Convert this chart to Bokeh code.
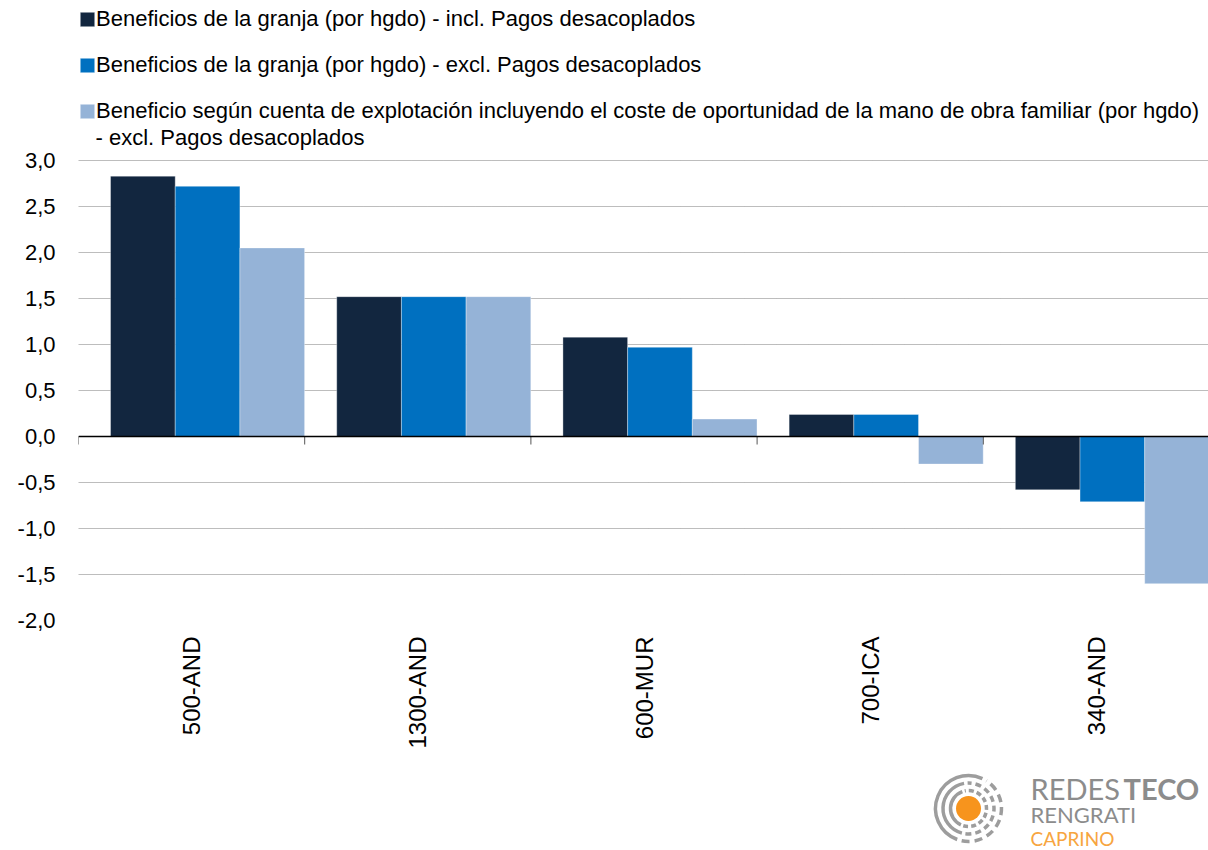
import math
from bokeh.plotting import figure
from bokeh.models import Range1d, FixedTicker, Legend, LegendItem, Span, Spacer, Label
from bokeh.layouts import column, row
from bokeh.embed import file_html
from bokeh.resources import INLINE
from bokeh.core.properties import value

# ---------------- data ----------------
categories = ["500-AND", "1300-AND", "600-MUR", "700-ICA", "340-AND"]
incl_pagos = [2.83, 1.52, 1.08, 0.24, -0.58]
excl_pagos = [2.72, 1.52, 0.97, 0.24, -0.71]
coste_oportunidad = [2.05, 1.52, 0.19, -0.30, -1.60]

series_labels = [
    "Beneficios de la granja (por hgdo) - incl. Pagos desacoplados",
    "Beneficios de la granja (por hgdo) - excl. Pagos desacoplados",
    "Beneficio según cuenta de explotación incluyendo el coste de oportunidad de la mano de obra familiar (por hgdo)",
]
series_label_continuation = "- excl. Pagos desacoplados"
series_colors = ["#12263F", "#0070C0", "#95B3D7"]

y_ticks = [-2.0, -1.5, -1.0, -0.5, 0.0, 0.5, 1.0, 1.5, 2.0, 2.5, 3.0]
y_tick_labels = ["-2,0", "-1,5", "-1,0", "-0,5", "0,0", "0,5", "1,0", "1,5", "2,0", "2,5", "3,0"]

logo_words = ["REDES", "TECO", "RENGRATI", "CAPRINO"]

FONT = "Liberation Sans"

# ---------------- main chart ----------------
W, H = 1208, 760
PX_PER_UNIT = 92.0
CAT_PX = 226.2
p = figure(width=W, height=H, output_backend="svg", toolbar_location=None,
           x_range=Range1d(0, 1130 / CAT_PX),
           y_range=Range1d(-2, 3 + 160 / PX_PER_UNIT),
           min_border_left=78, min_border_right=0,
           min_border_top=0, min_border_bottom=140)
p.outline_line_color = None
p.background_fill_color = "white"
p.border_fill_color = "white"

group_gap = 0.1416
bar_w = 0.286
renderers = []
for k, (vals, color) in enumerate(zip([incl_pagos, excl_pagos, coste_oportunidad], series_colors)):
    xs = [i + group_gap + bar_w * (k + 0.5) for i in range(len(categories))]
    r = p.vbar(x=xs, top=vals, bottom=0, width=bar_w, fill_color=color,
               line_color="white", line_alpha=0.35, line_width=1)
    renderers.append(r)

# zero line and category boundary ticks
p.add_layout(Span(location=0, dimension="width", line_color="black", line_width=1.5))
bounds = list(range(len(categories) + 1))
p.segment(x0=bounds, y0=[0] * len(bounds), x1=bounds, y1=[-8 / PX_PER_UNIT] * len(bounds),
          line_color="#555555", line_width=1)

# y axis
yt = FixedTicker(ticks=y_ticks)
p.yaxis.ticker = yt
p.yaxis.major_label_overrides = dict(zip(y_ticks, y_tick_labels))
p.yaxis.axis_line_color = None
p.yaxis.major_tick_line_color = None
p.yaxis.minor_tick_line_color = None
p.yaxis.major_tick_out = 0
p.yaxis.minor_tick_out = 0
p.yaxis.major_label_standoff = 23
p.yaxis.major_label_text_font = FONT
p.yaxis.major_label_text_font_size = "22px"
p.yaxis.major_label_text_color = "black"

p.ygrid.ticker = yt
p.ygrid.grid_line_color = "#7a7a7a"
p.ygrid.grid_line_dash = "1 1"
p.ygrid.grid_line_width = 1
p.xgrid.grid_line_color = None

# x axis (category labels)
centers = [i + 0.5 for i in range(len(categories))]
p.xaxis.ticker = FixedTicker(ticks=centers)
p.xaxis.major_label_overrides = dict(zip(centers, categories))
p.xaxis.major_label_orientation = math.pi / 2
p.xaxis.axis_line_color = None
p.xaxis.major_tick_line_color = None
p.xaxis.minor_tick_line_color = None
p.xaxis.major_tick_out = 0
p.xaxis.minor_tick_out = 0
p.xaxis.major_label_standoff = 16
p.xaxis.major_label_text_font = FONT
p.xaxis.major_label_text_font_size = "24px"
p.xaxis.major_label_text_color = "black"

legend = Legend(
    items=[LegendItem(label=lab, renderers=[r]) for lab, r in zip(series_labels, renderers)],
    location=(0, 496), orientation="vertical",
    glyph_width=18, glyph_height=18, label_standoff=0, spacing=20,
    padding=0, margin=0, border_line_color=None, background_fill_alpha=0,
    label_text_font=FONT, label_text_font_size="22px", label_height=26,
    label_text_color="black",
)
p.add_layout(legend)
p.add_layout(Label(x=17 / CAT_PX, y=3 + (160 - 137) / PX_PER_UNIT, text=series_label_continuation,
                   text_font=FONT, text_font_size="22px", text_color="black",
                   text_baseline="middle", text_align="left"))

# ---------------- logo ----------------
LW, LH = 288, 90
logo = figure(width=LW, height=LH, output_backend="svg", toolbar_location=None,
              x_range=Range1d(0, LW), y_range=Range1d(0, LH),
              x_axis_location=None, y_axis_location=None, min_border=0)
logo.grid.visible = False
logo.outline_line_color = None
logo.background_fill_color = "white"
logo.border_fill_color = "white"

gray = "#9d9d9d"
cx, cy = 48, 42
rings = [(18, 110, 245, "5 3"), (25.5, 100, 255, "6 4"), (33, 65, 250, "8 5")]
for rad, a0, a1, dash in rings:
    logo.arc(x=cx, y=cy, radius=rad, start_angle=math.radians(a0), end_angle=math.radians(a1),
             line_color=gray, line_width=3.5)
    logo.arc(x=cx, y=cy, radius=rad, start_angle=math.radians(a1 + 8), end_angle=math.radians(a0 + 352),
             line_color=gray, line_width=3.5, line_dash=dash)
logo.scatter(x=[cx], y=[cy], size=25, marker="circle", fill_color="#F7941D", line_color=None)

logo.text(x=[110], y=[62.5], text=[logo_words[0]], text_font=value("Lato"), text_font_size="29px",
          text_color="#8c8c8c", text_baseline="middle")
logo.text(x=[203], y=[62.5], text=[logo_words[1]], text_font=value("Lato"), text_font_size="29px",
          text_font_style="bold", text_color="#8c8c8c", text_baseline="middle")
logo.text(x=[110], y=[36], text=[logo_words[2]], text_font=value("Lato"), text_font_size="22px",
          text_color="#8c8c8c", text_baseline="middle")
logo.text(x=[110], y=[12.5], text=[logo_words[3]], text_font=value("Lato"), text_font_size="19px",
          text_color="#F7A540", text_baseline="middle")

layout = column(p, row(Spacer(width=W - LW, height=LH), logo))
open("out.html", "w").write(file_html(layout, INLINE))
